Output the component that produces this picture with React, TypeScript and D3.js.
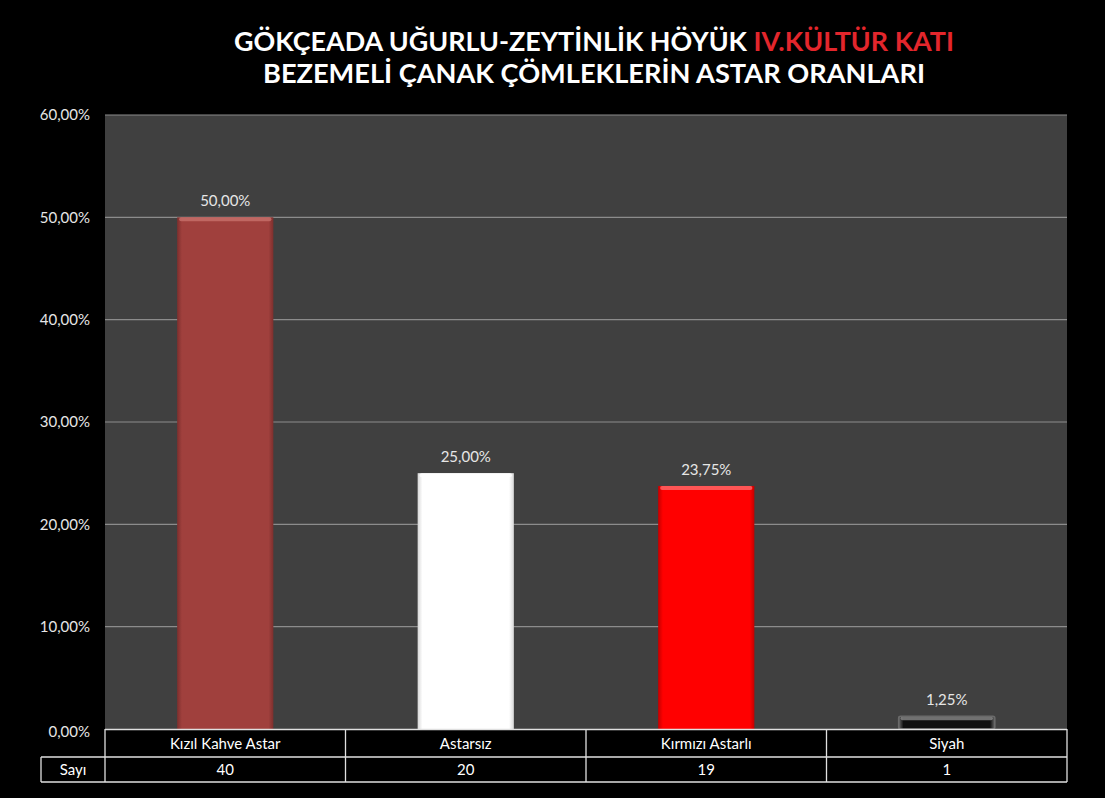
import React from "react";
import * as d3 from "d3";

const categories = ["Kızıl Kahve Astar", "Astarsız", "Kırmızı Astarlı", "Siyah"];
const shares = [0.5, 0.25, 0.2375, 0.0125];
const counts = [40, 20, 19, 1];
const yTicks = [0, 0.1, 0.2, 0.3, 0.4, 0.5, 0.6];

// bar fills: [edge, base, highlight]
const barStyles = [
  ["#7d2f2d", "#a0403d", "#c8706c"],
  ["#d8d8d8", "#ffffff", "#ffffff"],
  ["#c40000", "#ff0000", "#ff6a6a"],
  ["#6a6a6a", "#101010", "#8a8a8a"],
];

const W = 1105;
const H = 798;
const left = 105;
const right = 1067;
const top = 115;
const bottom = 729;
const row1 = 757;
const row2 = 782;
const font = "Lato, 'Open Sans', sans-serif";

const pct = d3
  .formatLocale({ decimal: ",", thousands: ".", grouping: [3], currency: ["", ""] })
  .format(".2%");

export default function App() {
  const x = d3.scaleBand<string>().domain(categories).range([left, right]).paddingInner(0.6).paddingOuter(0.3);
  const y = d3.scaleLinear().domain([0, 0.6]).range([bottom, top]);
  const step = x.step();

  return (
    <div style={{ position: "absolute", left: 0, top: 0 }}>
      <svg width={W} height={H} style={{ display: "block", background: "#000" }}>
        <defs>
          {barStyles.map(([edge, base], i) => (
            <linearGradient key={i} id={`bar-h-${i}`} x1="0" x2="1" y1="0" y2="0">
              <stop offset="0%" stopColor={edge} />
              <stop offset="5%" stopColor={base} />
              <stop offset="95%" stopColor={base} />
              <stop offset="100%" stopColor={edge} />
            </linearGradient>
          ))}
        </defs>

        {/* title */}
        <text x={594} y={51} textAnchor="middle" fill="#fff" fontFamily={font} fontWeight="bold" fontSize={27}
          textLength={720} lengthAdjust="spacingAndGlyphs">
          GÖKÇEADA UĞURLU-ZEYTİNLİK HÖYÜK <tspan fill="#e3262c">IV.KÜLTÜR KATI</tspan>
        </text>
        <text x={594} y={83} textAnchor="middle" fill="#fff" fontFamily={font} fontWeight="bold" fontSize={27}
          textLength={662} lengthAdjust="spacingAndGlyphs">
          BEZEMELİ ÇANAK ÇÖMLEKLERİN ASTAR ORANLARI
        </text>

        {/* plot area */}
        <rect x={left} y={top} width={right - left} height={bottom - top} fill="#404040" />
        {yTicks.filter((t) => t > 0).map((t) => (
          <line key={t} x1={left} x2={right} y1={y(t)} y2={y(t)} stroke="#8c8c8c" strokeWidth={1.2} />
        ))}
        {yTicks.map((t) => (
          <text key={t} x={90} y={y(t) + (t === 0 ? 3 : 0)} dy="0.35em" textAnchor="end" fill="#e6e6e6"
            fontFamily={font} fontSize={15}>
            {pct(t)}
          </text>
        ))}

        {/* bars */}
        {categories.map((c, i) => {
          const bx = x(c) ?? 0;
          const bw = x.bandwidth();
          const by = y(shares[i]);
          const bh = bottom - by;
          const [edge, , hi] = barStyles[i];
          return (
            <g key={c}>
              <rect x={bx} y={by} width={bw} height={bh} fill={`url(#bar-h-${i})`} />
              <rect x={bx + 2} y={by} width={bw - 4} height={Math.min(4, bh)} fill={hi} opacity={0.8} rx={2} />
              {i === 3 && (
                <rect x={bx} y={by} width={bw} height={bh} fill="none" stroke={edge} strokeWidth={1.5} rx={2} />
              )}
              <text x={bx + bw / 2} y={by - 11} textAnchor="middle" fill="#e6e6e6" fontFamily={font} fontSize={15}>
                {pct(shares[i])}
              </text>
            </g>
          );
        })}

        {/* data table */}
        <g stroke="#e0e0e0" strokeWidth={1.3} fill="none">
          <line x1={left} x2={right} y1={bottom + 0.5} y2={bottom + 0.5} />
          <line x1={41} x2={right} y1={row1} y2={row1} />
          <line x1={41} x2={right} y1={row2} y2={row2} />
          <line x1={41} x2={41} y1={row1} y2={row2} />
          <line x1={left} x2={left} y1={bottom} y2={row2} />
          {categories.map((c) => (
            <line key={c} x1={(x(c) ?? 0) - x.bandwidth() * 0.75 + step} x2={(x(c) ?? 0) - x.bandwidth() * 0.75 + step}
              y1={bottom} y2={row2} />
          ))}
        </g>
        <text x={73} y={(row1 + row2) / 2} dy="0.35em" textAnchor="middle" fill="#fff" fontFamily={font} fontSize={15}>
          Sayı
        </text>
        {categories.map((c, i) => {
          const cx = (x(c) ?? 0) + x.bandwidth() / 2;
          return (
            <g key={c} fill="#fff" fontFamily={font} fontSize={15} textAnchor="middle">
              <text x={cx} y={(bottom + row1) / 2 + 1} dy="0.35em">{c}</text>
              <text x={cx} y={(row1 + row2) / 2} dy="0.35em">{counts[i]}</text>
            </g>
          );
        })}
      </svg>
    </div>
  );
}
